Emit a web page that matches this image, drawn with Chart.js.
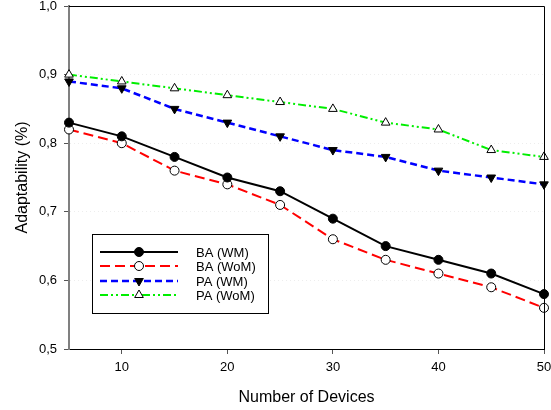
<!DOCTYPE html>
<html>
<head>
<meta charset="utf-8">
<script src="https://cdn.jsdelivr.net/npm/chart.js@4"></script>
<style>
  html, body { margin: 0; padding: 0; background: #fff; }
  #wrap { width: 551px; height: 410px; }
</style>
</head>
<body>
<div id="wrap"><canvas id="canvas-adapt" width="551" height="410"></canvas></div>
<script>
const devices = [5, 10, 15, 20, 25, 30, 35, 40, 45, 50];
const baWM  = [0.83, 0.81, 0.78, 0.75, 0.73, 0.69, 0.65, 0.63, 0.61, 0.58];
const baWoM = [0.82, 0.80, 0.76, 0.74, 0.71, 0.66, 0.63, 0.61, 0.59, 0.56];
const paWM  = [0.89, 0.88, 0.85, 0.83, 0.81, 0.79, 0.78, 0.76, 0.75, 0.74];
const paWoM = [0.90, 0.89, 0.88, 0.87, 0.86, 0.85, 0.83, 0.82, 0.79, 0.78];
const xTicks = [10, 20, 30, 40, 50];
const seriesNames = ['BA (WM)', 'BA (WoM)', 'PA (WM)', 'PA (WoM)'];

function pts(vals) {
    return devices.map((d, i) => ({x: d, y: vals[i]}));
}

// frame on top and right + boxed legend
const framePlugin = {
    id: 'frame',
    afterDraw(chart) {
        const ctx = chart.ctx;
        const a = chart.chartArea;
        ctx.save();
        ctx.strokeStyle = '#000';
        ctx.lineWidth = 1;
        ctx.beginPath();
        ctx.moveTo(a.left, a.top + 0.5);
        ctx.lineTo(a.right + 0.5, a.top + 0.5);
        ctx.lineTo(a.right + 0.5, a.bottom);
        ctx.stroke();

        // legend box
        ctx.fillStyle = '#fff';
        ctx.fillRect(92, 234, 176, 79);
        ctx.strokeRect(92.5, 234.5, 176, 79);
        const rows = [252, 266, 281, 295];
        chart.data.datasets.forEach((ds, i) => {
            const y = rows[i];
            ctx.save();
            ctx.strokeStyle = ds.borderColor;
            ctx.lineWidth = ds.borderWidth;
            ctx.setLineDash(ds.borderDash || []);
            ctx.beginPath();
            ctx.moveTo(100, y);
            ctx.lineTo(178, y);
            ctx.stroke();
            ctx.restore();
            ctx.save();
            ctx.fillStyle = ds.pointBackgroundColor;
            ctx.strokeStyle = ds.pointBorderColor;
            Chart.helpers.drawPoint(ctx, {
                pointStyle: ds.pointStyle,
                rotation: ds.pointRotation || 0,
                radius: ds.pointRadius,
                borderWidth: ds.pointBorderWidth
            }, 139, y);
            ctx.restore();
            ctx.fillStyle = '#000';
            ctx.font = '13px "Liberation Sans", Arial, sans-serif';
            ctx.textBaseline = 'middle';
            ctx.textAlign = 'left';
            ctx.fillText(ds.label, 196, y + 1);
        });
        ctx.restore();
    }
};

const canvas = document.getElementById('canvas-adapt');
var ctx = canvas.getContext('2d');
new Chart(ctx, {
    type: 'line',
    data: {
        datasets: [{
            label: seriesNames[0],
            data: pts(baWM),
            borderColor: '#000000',
            borderWidth: 2,
            pointStyle: 'circle',
            pointRadius: 4.5,
            pointBackgroundColor: '#000000',
            pointBorderColor: '#000000',
            pointBorderWidth: 1
        }, {
            label: seriesNames[1],
            data: pts(baWoM),
            borderColor: '#ff0000',
            borderWidth: 2,
            borderDash: [10, 5],
            pointStyle: 'circle',
            pointRadius: 4.5,
            pointBackgroundColor: '#ffffff',
            pointBorderColor: '#000000',
            pointBorderWidth: 1
        }, {
            label: seriesNames[2],
            data: pts(paWM),
            borderColor: '#0000ff',
            borderWidth: 2.5,
            borderDash: [7, 4],
            pointStyle: 'triangle',
            pointRotation: 180,
            pointRadius: 5,
            pointBackgroundColor: '#000000',
            pointBorderColor: '#000000',
            pointBorderWidth: 1
        }, {
            label: seriesNames[3],
            data: pts(paWoM),
            borderColor: '#00ee00',
            borderWidth: 2,
            borderDash: [8, 3, 2, 3, 2, 3],
            pointStyle: 'triangle',
            pointRadius: 5,
            pointBackgroundColor: '#ffffff',
            pointBorderColor: '#000000',
            pointBorderWidth: 1
        }]
    },
    options: {
        responsive: false,
        animation: false,
        layout: { padding: { top: 6, right: 7, left: 0, bottom: 0 } },
        elements: { line: { tension: 0 } },
        datasets: { line: { clip: false } },
        plugins: {
            legend: { display: false },
            tooltip: { enabled: false }
        },
        scales: {
            x: {
                type: 'linear',
                min: 5,
                max: 50,
                afterBuildTicks: (s) => { s.ticks = xTicks.map(v => ({value: v})); },
                afterFit: (s) => { s.height = 61; s.paddingLeft = 0; s.paddingRight = 0; },
                ticks: {
                    color: '#000',
                    font: { family: '"Liberation Sans", Arial, sans-serif', size: 13 },
                    padding: 6,
                    maxRotation: 0
                },
                grid: {
                    drawOnChartArea: false,
                    tickLength: 5,
                    tickColor: '#555'
                },
                border: { color: '#000', width: 1 },
                title: {
                    display: true,
                    text: 'Number of Devices',
                    color: '#000',
                    font: { family: '"Liberation Sans", Arial, sans-serif', size: 16 },
                    padding: { top: 0, bottom: 3 }
                }
            },
            y: {
                min: 0.5,
                max: 1.0,
                afterFit: (s) => { s.width = 69; s.paddingTop = 0; s.paddingBottom = 0; },
                ticks: {
                    stepSize: 0.1,
                    color: '#000',
                    font: { family: '"Liberation Sans", Arial, sans-serif', size: 13 },
                    padding: 7,
                    callback: (v) => v.toFixed(1).replace('.', ',')
                },
                grid: {
                    color: 'rgba(0,0,0,0.07)',
                    tickLength: 5,
                    tickColor: '#555'
                },
                border: { color: '#808080', width: 2, dash: [1, 3] },
                title: {
                    display: true,
                    text: 'Adaptability (%)',
                    color: '#000',
                    font: { family: '"Liberation Sans", Arial, sans-serif', size: 16 },
                    padding: { top: 13, bottom: 0 }
                }
            }
        }
    },
    plugins: [framePlugin]
});
</script>
</body>
</html>
